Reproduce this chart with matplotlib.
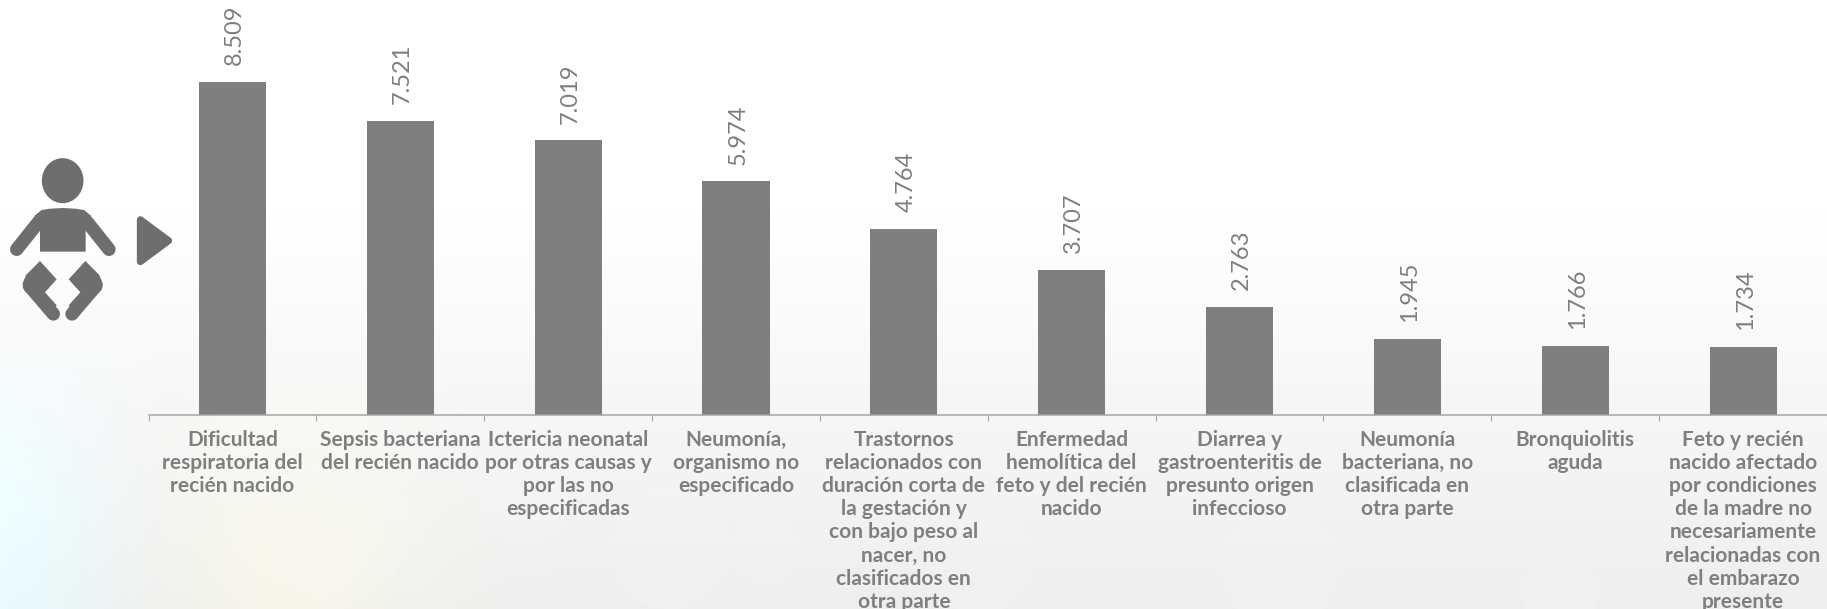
import numpy as np
import matplotlib
matplotlib.use('Agg')
import matplotlib.pyplot as plt
from matplotlib.patches import Polygon, Ellipse, Circle

# ===========================================================================
# DATA
# ===========================================================================
causes = [
    "Dificultad\nrespiratoria del\nrecién nacido",
    "Sepsis bacteriana\ndel recién nacido",
    "Ictericia neonatal\npor otras causas y\npor las no\nespecificadas",
    "Neumonía,\norganismo no\nespecificado",
    "Trastornos\nrelacionados con\nduración corta de\nla gestación y\ncon bajo peso al\nnacer, no\nclasificados en\notra parte",
    "Enfermedad\nhemolítica del\nfeto y del recién\nnacido",
    "Diarrea y\ngastroenteritis de\npresunto origen\ninfeccioso",
    "Neumonía\nbacteriana, no\nclasificada en\notra parte",
    "Bronquiolitis\naguda",
    "Feto y recién\nnacido afectado\npor condiciones\nde la madre no\nnecesariamente\nrelacionadas con\nel embarazo\npresente",
]
cases = [8509, 7521, 7019, 5974, 4764, 3707, 2763, 1945, 1766, 1734]
case_labels = ["8.509", "7.521", "7.019", "5.974", "4.764", "3.707", "2.763", "1.945", "1.766", "1.734"]

BAR_COLOR = "#7f7f7f"
ICON_COLOR = "#6e6e6e"
W, H = 1827, 609
DPI = 100

fig = plt.figure(figsize=(W / DPI, H / DPI), dpi=DPI)

# Washed out background: white on top, light grey below, a cold/warm tint bottom left
bg = fig.add_axes([0, 0, 1, 1], zorder=0)
yy, xx = np.mgrid[0:1:120j, 0:1:360j]
grey = np.clip((yy - 0.35) / 0.65, 0, 1)
img = np.ones((120, 360, 3))
for c in range(3):
    img[:, :, c] = 1.0 - 0.065 * grey
cold = np.clip((0.09 - xx) / 0.09, 0, 1) * np.clip((yy - 0.55) / 0.3, 0, 1)
warm = np.exp(-((xx - 0.16) / 0.07) ** 2) * np.clip((yy - 0.6) / 0.3, 0, 1)
img[:, :, 0] += -0.02 * cold + 0.03 * warm
img[:, :, 1] += 0.05 * cold + 0.03 * warm
img[:, :, 2] += 0.06 * cold - 0.01 * warm
bg.imshow(np.clip(img, 0, 1), extent=(0, W, H, 0), aspect='auto', interpolation='bilinear')
bg.set_xlim(0, W)
bg.set_ylim(H, 0)
bg.axis('off')

# faint bokeh spots
for cx, cy, r in [(340, 530, 70), (525, 500, 45), (670, 550, 60), (765, 550, 35),
                  (980, 560, 55), (1280, 570, 60), (1560, 590, 40)]:
    bg.add_patch(Circle((cx, cy), r, color='white', alpha=0.12, lw=0))

# Icon, drawn in picture pixels (zoomed crop coordinates / 3, y offset 120)
def px(points):
    return [(x / 3, y / 3 + 120) for x, y in points]

def stroke(x0, y0, x1, y1):
    pts = px([(x0, y0), (x1, y1)])
    bg.plot([pts[0][0], pts[1][0]], [pts[0][1], pts[1][1]], color=ICON_COLOR, lw=9.6,
            solid_capstyle='round')

bg.add_patch(Ellipse((188 / 3, 182 / 3 + 120), 125 / 3, 135 / 3, color=ICON_COLOR, lw=0))
bg.add_patch(Polygon(px([(120, 395), (257, 395), (257, 300), (273, 287), (252, 270), (225, 266),
                         (188, 264), (150, 266), (125, 270), (104, 287), (120, 300)]),
                     color=ICON_COLOR, lw=0))
stroke(118, 303, 50, 388)
stroke(259, 303, 327, 388)
leg = [(120, 423), (170, 478), (135, 517), (170, 556), (145, 590), (72, 510), (68, 490), (78, 465)]
for shape in [leg, [(376 - x, y) for x, y in leg]]:
    bg.add_patch(Polygon(px(shape), color=ICON_COLOR, lw=0))
stroke(88, 497, 160, 582)
stroke(288, 497, 216, 582)
bg.add_patch(Polygon(px([(421, 299), (506, 362), (421, 425)]), facecolor=ICON_COLOR,
                     edgecolor=ICON_COLOR, lw=5, joinstyle='round'))

# Main bars
ax_left, ax_bottom_px = 148.5, 415
ax = fig.add_axes([ax_left / W, (H - ax_bottom_px) / H, (W - ax_left) / W, ax_bottom_px / H], zorder=1)
ax.patch.set_alpha(0)
positions = np.arange(len(cases))
ax.bar(positions, cases, width=0.4, color=BAR_COLOR)
ax.set_xlim(-0.5, len(cases) - 0.5)
ax.set_ylim(0, 10605)

for p, v, lab in zip(positions, cases, case_labels):
    ax.annotate(lab, (p, v), xytext=(1.5, 12), textcoords='offset points', rotation=90,
                ha='center', va='bottom', color=BAR_COLOR, fontsize=17, family='Lato')

for side in ['top', 'left', 'right']:
    ax.spines[side].set_visible(False)
ax.spines['bottom'].set_color('#a6a6a6')
ax.spines['bottom'].set_linewidth(1.1)
ax.yaxis.set_visible(False)

ax.set_xticks(np.arange(-0.5, len(cases)), labels=[])
ax.tick_params(axis='x', which='major', length=4.5, width=0.8, color='#a6a6a6')
ax.set_xticks(positions, labels=causes, minor=True)
ax.tick_params(axis='x', which='minor', length=0, pad=10.5, labelsize=15, labelcolor=BAR_COLOR)
for t in ax.get_xticklabels(minor=True):
    t.set_family('Lato')
    t.set_fontweight('bold')
    t.set_linespacing(1.2)
    t.set_ha('center')
    t.set_va('top')

fig.savefig("out.png", dpi=DPI)
